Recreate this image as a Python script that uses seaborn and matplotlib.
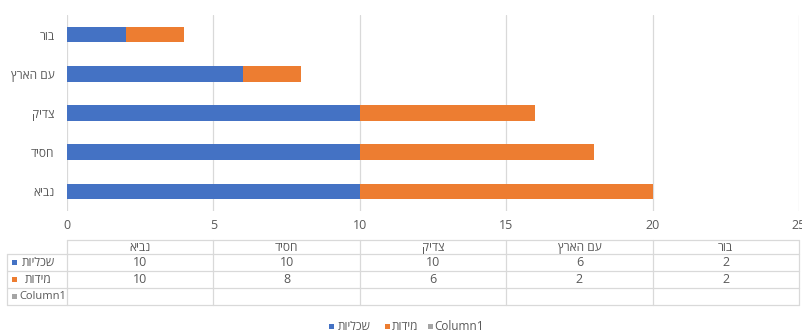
import matplotlib
matplotlib.use("Agg")
import matplotlib.pyplot as plt
from matplotlib.lines import Line2D
from matplotlib.patches import Rectangle
import matplotlib.transforms as mtransforms
import seaborn as sns
import pandas as pd

# Data
categories = ["בור", "עם הארץ", "צדיק", "חסיד", "נביא"]
sichliyot = [2, 6, 10, 10, 10]   # שכליות
midot = [2, 2, 6, 8, 10]         # מידות
series_names = ["שכליות", "מידות", "Column1"]
x_ticks = [0, 5, 10, 15, 20, 25]

BLUE = "#4472C4"
ORANGE = "#ED7D31"
GRAY = "#A5A5A5"
TEXT = "#595959"
GRID = "#D9D9D9"

sns.set_theme(style="white")
plt.rcParams["font.family"] = ["Open Sans", "DejaVu Sans"]


def vis(s):
    """Hebrew text in visual (left-to-right drawing) order."""
    if any("\u0590" <= ch <= "\u05FF" for ch in s):
        return s[::-1]
    return s


df = pd.DataFrame({
    "cat": categories,
    "s1": sichliyot,
    "s2": midot,
})
df["total"] = df["s1"] + df["s2"]

W, H = 803, 332
fig = plt.figure(figsize=(W / 100, H / 100), dpi=100)
fig.patch.set_facecolor("white")

left_px, right_px, top_px, bottom_px = 67, 799, 15, 211
ax = fig.add_axes([left_px / W, 1 - bottom_px / H,
                   (right_px - left_px) / W, (bottom_px - top_px) / H])

# stacked bars: full length (orange) underneath, first segment (blue) on top
sns.barplot(data=df, y="cat", x="total", order=categories, orient="h",
            color=ORANGE, saturation=1, width=0.4, ax=ax, zorder=3)
sns.barplot(data=df, y="cat", x="s1", order=categories, orient="h",
            color=BLUE, saturation=1, width=0.4, ax=ax, zorder=4)
for p in ax.patches:
    p.set_edgecolor("none")

ax.set_xlim(0, 25)
ax.set_ylim(len(categories) - 0.5, -0.5)
ax.set_xticks(x_ticks)
ax.set_xticklabels([str(t) for t in x_ticks])
ax.set_yticks(range(len(categories)))
ax.set_yticklabels([vis(c) for c in categories])
ax.set_xlabel("")
ax.set_ylabel("")
ax.grid(False)
for t in x_ticks:
    ax.axvline(t, color=GRID, lw=0.9, zorder=1)
for s in ax.spines.values():
    s.set_visible(False)
ax.tick_params(axis="x", length=0, pad=6, labelsize=9, labelcolor=TEXT)
ax.tick_params(axis="y", length=0, pad=9, labelsize=8.6, labelcolor=TEXT)
ax.set_facecolor("white")

# data table below the axes
blend = mtransforms.blended_transform_factory(ax.transData, fig.transFigure)


def fy(y):
    return 1 - y / H


def fx(x):
    return x / W


row_y = [240, 254, 271, 288, 305]
# horizontal rules
fig.add_artist(Line2D([0, 25], [fy(row_y[0])] * 2, transform=blend,
                      color=GRID, lw=0.9, clip_on=False))
for y in row_y[1:]:
    fig.add_artist(Line2D([fx(7), fx(right_px)], [fy(y)] * 2,
                          transform=fig.transFigure, color=GRID, lw=0.9))
# vertical rules
fig.add_artist(Line2D([fx(7), fx(7)], [fy(row_y[1]), fy(row_y[-1])],
                      transform=fig.transFigure, color=GRID, lw=0.9))
for t in x_ticks:
    fig.add_artist(Line2D([t, t], [fy(row_y[0]), fy(row_y[-1])],
                          transform=blend, color=GRID, lw=0.9, clip_on=False))

# table header and cells, columns ordered left to right from the bottom bar up
table_order = categories[::-1]
table_s1 = sichliyot[::-1]
table_s2 = midot[::-1]
centers = [(row_y[i] + row_y[i + 1]) / 2 for i in range(4)]
for i, cat in enumerate(table_order):
    xc = 5 * i + 2.5
    fig.text(xc, fy(centers[0] + 0.5), vis(cat), transform=blend,
             ha="center", va="center", fontsize=8.6, color=TEXT)
    fig.text(xc, fy(centers[1]), str(table_s1[i]), transform=blend,
             ha="center", va="center", fontsize=9, color=TEXT)
    fig.text(xc, fy(centers[2]), str(table_s2[i]), transform=blend,
             ha="center", va="center", fontsize=9, color=TEXT)

# row headers with colour keys
sq = 5
for y, name, col in [(centers[1], series_names[0], BLUE),
                     (centers[2], series_names[1], ORANGE),
                     (centers[3], series_names[2], GRAY)]:
    fig.add_artist(Rectangle((fx(12), fy(y + sq / 2)), sq / W, sq / H,
                             transform=fig.transFigure, color=col, lw=0))
    if col == GRAY:
        fig.text(fx(19), fy(y), name, ha="left", va="center",
                 fontsize=8, color=TEXT)
    else:
        fig.text(fx(38), fy(y), vis(name), ha="center", va="center",
                 fontsize=8.6, color=TEXT)

# legend at the bottom
ly = 326
legend_items = [(329, 338, series_names[0], BLUE),
                (385, 392, series_names[1], ORANGE),
                (428, 434, series_names[2], GRAY)]
for sx, tx, name, col in legend_items:
    fig.add_artist(Rectangle((fx(sx), fy(ly + sq / 2)), sq / W, sq / H,
                             transform=fig.transFigure, color=col, lw=0))
    fig.text(fx(tx), fy(ly), vis(name), ha="left", va="center",
             fontsize=8.5, color=TEXT)

fig.savefig("out.png", dpi=100, facecolor="white")
